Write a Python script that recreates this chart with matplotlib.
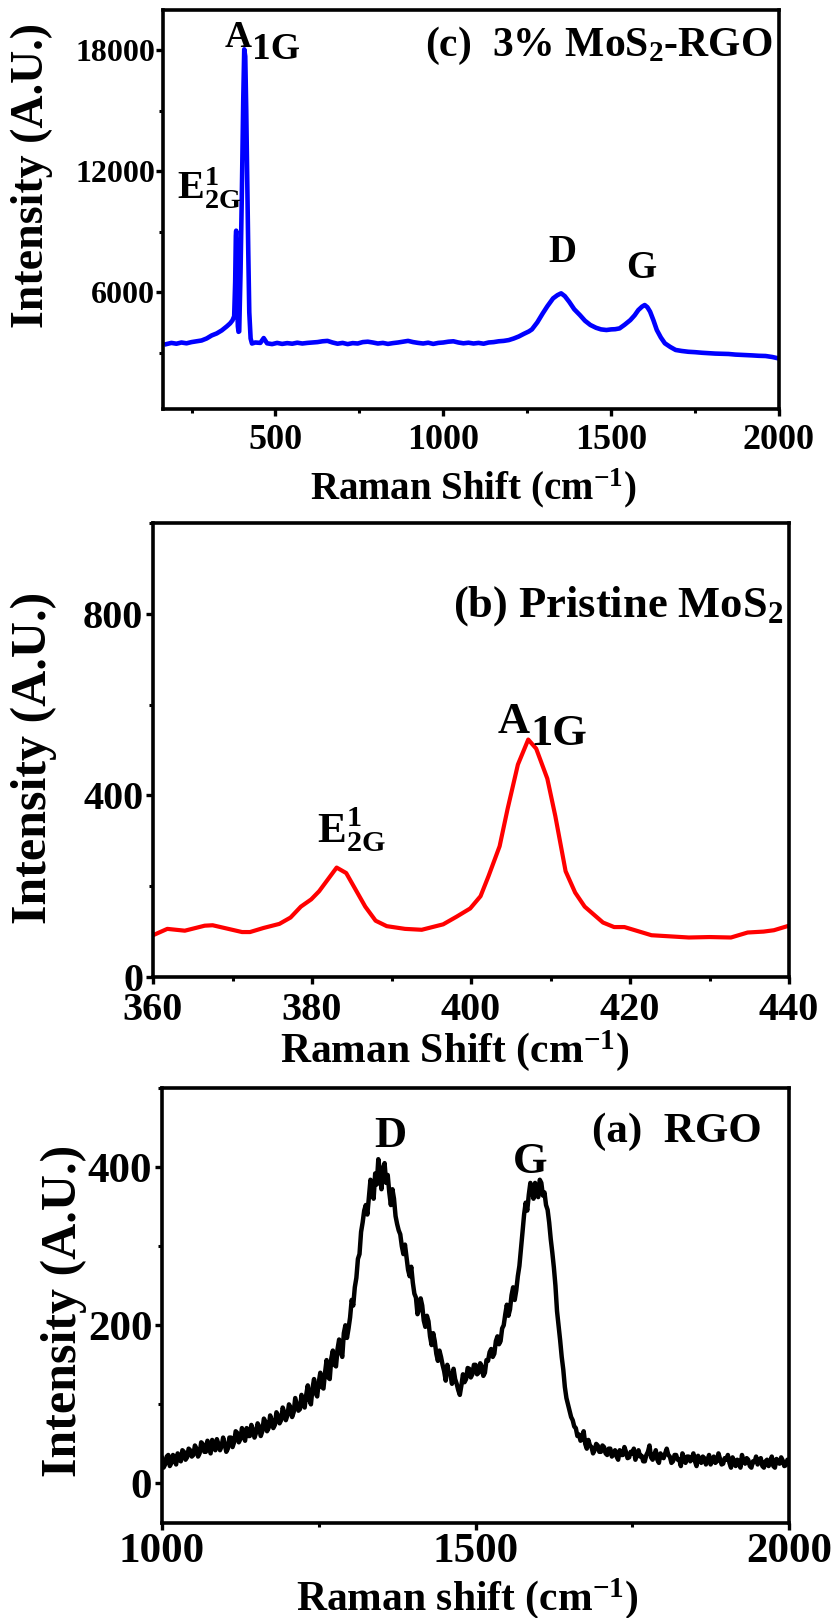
import matplotlib
matplotlib.use("Agg")
import matplotlib.pyplot as plt
from matplotlib.ticker import MultipleLocator

plt.rcParams['font.family'] = ['Liberation Serif', 'DejaVu Serif']
plt.rcParams['font.weight'] = 'bold'
plt.rcParams['mathtext.default'] = 'regular'

# ---------------- data ----------------
# (c) 3% MoS2-RGO
c_x = [175, 190, 205, 220, 235, 250, 265, 280, 295, 310, 325, 340, 355, 365, 372, 377,
       380, 382, 383, 384, 386, 388, 390, 392, 396, 400, 404, 407, 410, 413, 416, 419,
       422, 426, 430, 440, 455, 465, 475, 490, 505, 520, 535, 550, 565, 580, 595, 610,
       625, 640, 655, 670, 685, 700, 715, 730, 745, 760, 775, 790, 805, 820, 835, 850,
       865, 880, 895, 910, 925, 940, 955, 970, 985, 1000, 1015, 1030, 1045, 1060, 1075,
       1090, 1105, 1120, 1135, 1150, 1165, 1180, 1195, 1210, 1225, 1240, 1255, 1264,
       1280, 1296, 1310, 1327, 1340, 1351, 1362, 1375, 1390, 1407, 1422, 1438, 1455,
       1470, 1486, 1500, 1512, 1525, 1540, 1557, 1570, 1581, 1592, 1600, 1608, 1616,
       1626, 1636, 1648, 1660, 1676, 1692, 1710, 1730, 1750, 1771, 1790, 1810, 1830,
       1850, 1870, 1898, 1920, 1940, 1960, 1980, 1996]
c_y = [3420, 3480, 3440, 3500, 3460, 3520, 3560, 3600, 3700, 3850, 3950, 4100, 4300, 4450, 4600, 4800,
       6500, 8800, 9050, 8500, 5500, 4300, 4030, 4050, 7000, 11000, 15500, 18050, 17700, 15000, 11500, 8000,
       5000, 3700, 3450, 3500, 3480, 3720, 3460, 3420, 3480, 3430, 3470, 3440, 3490, 3450, 3480, 3500,
       3520, 3560, 3580, 3500, 3440, 3480, 3420, 3470, 3450, 3520, 3540, 3500, 3450, 3480, 3430, 3470,
       3500, 3540, 3580, 3520, 3480, 3450, 3490, 3430, 3480, 3500, 3540, 3560, 3500, 3460, 3490,
       3450, 3480, 3440, 3500, 3520, 3560, 3580, 3620, 3700, 3800, 3930, 4050, 4150,
       4500, 4940, 5300, 5690, 5850, 5940, 5800, 5520, 5150, 4860, 4580, 4370, 4230,
       4150, 4120, 4150, 4160, 4200, 4380, 4610, 4850, 5110, 5280, 5360, 5250, 5030,
       4600, 4120, 3750, 3460, 3280, 3130, 3080, 3040, 3020, 2990, 2970, 2950, 2940,
       2930, 2900, 2880, 2860, 2840, 2830, 2780, 2720]

# (b) Pristine MoS2
b_x = [360, 361.8, 364.0, 366.5, 367.5, 371.2, 372.2, 373.9, 375.9, 377.3, 378.6, 379.9,
       380.9, 383.1, 384.3, 386.7, 388.0, 389.4, 391.7, 393.8, 396.5, 398.2, 399.9, 401.2,
       402.2, 403.6, 404.6, 405.9, 407.2, 408.2, 409.6, 410.6, 411.9, 413.1, 414.3, 416.6,
       418.0, 419.3, 422.7, 427.4, 430.0, 432.7, 434.8, 436.8, 438.1, 439.8]
b_y = [92, 106, 102, 113, 114, 99, 99, 108, 117, 131, 155, 171,
       189, 241, 229, 155, 124, 112, 106, 104, 116, 133, 151, 178,
       222, 288, 370, 468, 523, 503, 437, 355, 233, 186, 155, 120,
       110, 110, 92, 87, 88, 87, 98, 100, 103, 112]

# (a) RGO, sampled every 2.5 cm-1 from 1000 to 2000 (one row = 50 cm-1)
a_x = [1000 + 2.5 * i for i in range(401)]
a_y = [32, 20, 24, 34, 36, 22, 26, 36, 30, 24, 38, 30, 28, 42, 40, 30, 33, 44, 42, 34,
       36, 48, 44, 34, 38, 52, 50, 40, 40, 54, 46, 38, 55, 48, 42, 56, 50, 42, 47, 58,
       50, 40, 44, 58, 58, 46, 52, 66, 64, 52, 56, 70, 62, 54, 70, 60, 60, 74, 68, 58,
       64, 76, 72, 60, 66, 82, 78, 66, 70, 86, 80, 70, 74, 90, 86, 76, 80, 96, 90, 80,
       86, 100, 96, 84, 90, 108, 100, 92, 94, 112, 102, 96, 112, 124, 106, 100, 120, 132, 114, 110,
       128, 140, 122, 120, 140, 156, 134, 132, 158, 168, 150, 148, 170, 182, 166, 160, 190, 200, 184, 196,
       210, 232, 225, 248, 260, 284, 290, 318, 330, 345, 352, 340, 362, 384, 375, 360, 392, 378, 410, 395,
       372, 398, 405, 380, 390, 368, 352, 372, 360, 338, 328, 320, 315, 300, 290, 302, 286, 270, 262, 274,
       254, 240, 235, 214, 220, 234, 225, 206, 198, 212, 205, 186, 175, 190, 180, 164, 155, 168, 160, 150,
       142, 130, 150, 140, 138, 126, 145, 132, 126, 118, 112, 124, 138, 128, 132, 146, 145, 134, 138, 150,
       150, 138, 140, 152, 148, 136, 140, 156, 155, 166, 170, 160, 164, 180, 186, 176, 180, 196, 200, 214,
       226, 212, 220, 238, 248, 232, 244, 262, 275, 296, 318, 340, 355, 345, 365, 380, 372, 360, 380, 368,
       362, 384, 380, 364, 368, 352, 346, 330, 309, 292, 273, 250, 218, 200, 181, 160, 144, 122, 108, 100,
       92, 84, 80, 72, 70, 60, 62, 54, 57, 66, 50, 44, 55, 48, 46, 38, 42, 50, 48, 40,
       40, 48, 46, 38, 36, 44, 44, 34, 38, 42, 34, 30, 42, 36, 36, 46, 40, 32, 33, 40,
       38, 44, 30, 36, 42, 34, 35, 28, 28, 36, 40, 48, 33, 30, 36, 42, 30, 26, 38, 34,
       32, 38, 44, 36, 34, 26, 28, 36, 36, 30, 30, 22, 38, 32, 26, 34, 34, 28, 31, 38,
       28, 22, 35, 30, 26, 34, 32, 24, 30, 36, 24, 30, 34, 26, 28, 38, 31, 24, 25, 32,
       30, 36, 26, 20, 33, 28, 22, 30, 28, 20, 36, 28, 25, 32, 30, 22, 20, 28, 27, 34,
       24, 30, 32, 22, 20, 28, 30, 22, 26, 34, 22, 20, 31, 26, 25, 33, 29, 22, 23, 30,
       28]

# ---------------- figure ----------------
W, H = 836, 1618
fig = plt.figure(figsize=(W / 100, H / 100), dpi=100)


def add_ax(left, top, right, bottom):
    return fig.add_axes([left / W, 1 - bottom / H, (right - left) / W, (bottom - top) / H])


def style(ax, xs, ys, xpad=2, ypad=2):
    for s in ax.spines.values():
        s.set_linewidth(2.6)
    ax.tick_params(which='major', direction='out', length=5, width=2.4)
    ax.tick_params(which='minor', direction='out', length=3, width=2.2)
    ax.tick_params(axis='x', labelsize=xs, pad=xpad)
    ax.tick_params(axis='y', labelsize=ys, pad=ypad)
    for lab in ax.get_xticklabels() + ax.get_yticklabels():
        lab.set_fontweight('bold')


# ----- panel (c)
axc = add_ax(163, 10, 779, 409)
axc.plot(c_x, c_y, color='#0000ff', lw=3.3)
axc.set_xlim(165, 2000)
axc.set_ylim(200, 20000)
axc.set_xticks([500, 1000, 1500, 2000])
axc.set_yticks([6000, 12000, 18000])
axc.xaxis.set_minor_locator(MultipleLocator(250))
axc.yaxis.set_minor_locator(MultipleLocator(3000))
style(axc, 26, 23, xpad=6, ypad=0.5)
axc.set_xlabel(r'Raman Shift (cm$^{-1}$)', fontsize=28, fontweight='bold')
axc.set_ylabel('Intensity (A.U.)', fontsize=33, fontweight='bold')
axc.xaxis.set_label_coords(0.503, -0.143)
axc.yaxis.set_label_coords(-0.179, 0.585)
axc.text(0.989, 0.885, r'(c)  3% MoS$_2$-RGO', transform=axc.transAxes, ha='right',
         va='baseline', fontsize=30, fontweight='bold')
axc.text(0.1445, 0.907, 'A', transform=axc.transAxes, ha='right', va='baseline',
         fontsize=27, fontweight='bold')
axc.text(0.1445, 0.877, '1G', transform=axc.transAxes, ha='left', va='baseline',
         fontsize=27, fontweight='bold')
axc.text(0.0227, 0.524, r'E$^{1}_{2G}$', transform=axc.transAxes, ha='left', va='baseline',
         fontsize=29, fontweight='bold')
axc.text(0.648, 0.391, 'D', transform=axc.transAxes, ha='center', va='center',
         fontsize=28, fontweight='bold')
axc.text(0.776, 0.353, 'G', transform=axc.transAxes, ha='center', va='center',
         fontsize=28, fontweight='bold')

# ----- panel (b)
axb = add_ax(153, 523, 789, 977)
axb.plot(b_x, b_y, color='#ff0000', lw=3.0)
axb.set_xlim(360, 440)
axb.set_ylim(0, 1000)
axb.set_xticks([360, 380, 400, 420, 440])
axb.set_yticks([0, 400, 800])
axb.xaxis.set_minor_locator(MultipleLocator(10))
axb.yaxis.set_minor_locator(MultipleLocator(200))
style(axb, 29, 29, xpad=5.5, ypad=2)
axb.set_xlabel(r'Raman Shift (cm$^{-1}$)', fontsize=30, fontweight='bold')
axb.set_ylabel('Intensity (A.U.)', fontsize=36, fontweight='bold')
axb.xaxis.set_label_coords(0.475, -0.112)
axb.yaxis.set_label_coords(-0.151, 0.483)
axb.text(0.9906, 0.793, r'(b) Pristine MoS$_2$', transform=axb.transAxes, ha='right',
         va='baseline', fontsize=32, fontweight='bold')
axb.text(0.593, 0.537, 'A', transform=axb.transAxes, ha='right', va='baseline',
         fontsize=32, fontweight='bold')
axb.text(0.593, 0.511, '1G', transform=axb.transAxes, ha='left', va='baseline',
         fontsize=32, fontweight='bold')
axb.text(0.258, 0.297, r'E$^{1}_{2G}$', transform=axb.transAxes, ha='left', va='baseline',
         fontsize=31, fontweight='bold')

# ----- panel (a)
axa = add_ax(162, 1088, 789, 1523)
axa.plot(a_x, a_y, color='black', lw=3.2)
axa.set_xlim(1000, 2000)
axa.set_ylim(-50, 500)
axa.set_xticks([1000, 1500, 2000])
axa.set_yticks([0, 200, 400])
axa.xaxis.set_minor_locator(MultipleLocator(250))
axa.yaxis.set_minor_locator(MultipleLocator(100))
style(axa, 31, 31)
axa.set_xlabel(r'Raman shift (cm$^{-1}$)', fontsize=30, fontweight='bold')
axa.set_ylabel('Intensity (A.U.)', fontsize=36, fontweight='bold')
axa.xaxis.set_label_coords(0.487, -0.122)
axa.yaxis.set_label_coords(-0.119, 0.488)
axa.text(0.821, 0.876, '(a)  RGO', transform=axa.transAxes, ha='center', va='baseline',
         fontsize=31, fontweight='bold')
axa.text(0.364, 0.890, 'D', transform=axa.transAxes, ha='center', va='center',
         fontsize=32, fontweight='bold')
axa.text(0.588, 0.830, 'G', transform=axa.transAxes, ha='center', va='center',
         fontsize=32, fontweight='bold')

fig.savefig('out.png', dpi=100)
